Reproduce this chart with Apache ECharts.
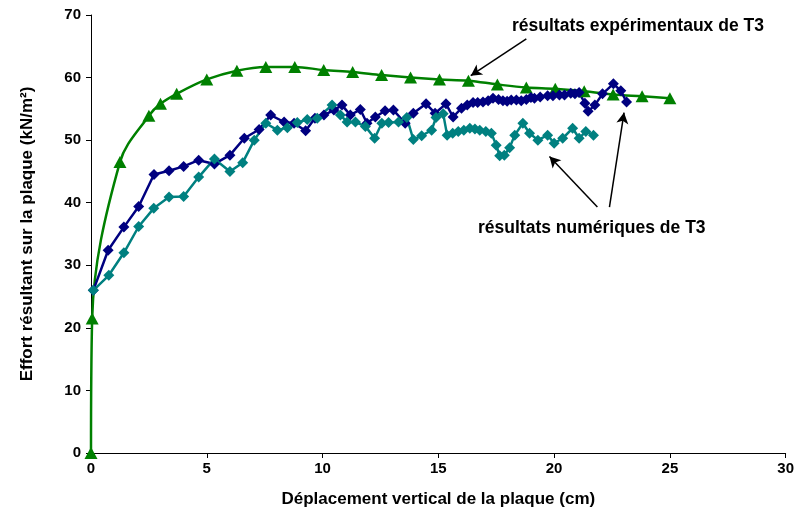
<!DOCTYPE html>
<html>
<head>
<meta charset="utf-8">
<script src="https://cdn.jsdelivr.net/npm/echarts@6/dist/echarts.min.js"></script>
<style>
html,body{margin:0;padding:0;background:#fff;}
#main{width:797px;height:513px;}
</style>
</head>
<body>
<div id="main"></div>
<script>
//résultats expérimentaux (triangles verts)
var expX = [0, 0.05, 1.25, 2.5, 3.0, 3.7, 5.0, 6.3, 7.55, 8.8, 10.05, 11.3, 12.55, 13.8, 15.05, 16.3, 17.55, 18.8, 20.05, 21.3, 22.55, 23.8, 25.0];
var expY = [0, 21.5, 46.5, 53.9, 55.8, 57.4, 59.7, 61.1, 61.7, 61.7, 61.2, 60.9, 60.4, 60.0, 59.7, 59.5, 58.9, 58.4, 58.2, 57.8, 57.3, 57.0, 56.7];

//résultats numériques - bleu foncé
var numAX = [0.1, 0.74, 1.42, 2.06, 2.72, 3.37, 4.0, 4.65, 5.33, 6.0, 6.62, 7.26, 7.76, 8.34, 8.77, 9.27, 9.67, 10.06, 10.49, 10.84, 11.2, 11.63, 11.92, 12.28, 12.7, 13.06, 13.57, 13.92, 14.47, 14.86, 15.33, 15.64, 16.0, 16.25, 16.5, 16.7, 16.93, 17.15, 17.36, 17.6, 17.79, 17.97, 18.15, 18.37, 18.58, 18.8, 19.0, 19.15, 19.4, 19.72, 19.95, 20.23, 20.45, 20.72, 20.9, 21.08, 21.33, 21.47, 21.76, 22.09, 22.56, 22.88, 23.13];
var numAY = [26.0, 32.4, 36.1, 39.4, 44.5, 45.1, 45.8, 46.8, 46.2, 47.6, 50.3, 51.7, 54.0, 52.9, 52.7, 51.5, 53.5, 54.0, 54.8, 55.6, 54.0, 54.9, 52.7, 53.7, 54.7, 54.8, 52.7, 54.3, 55.8, 54.3, 55.8, 53.7, 55.1, 55.6, 56.0, 56.0, 56.1, 56.3, 56.7, 56.5, 56.3, 56.2, 56.4, 56.4, 56.3, 56.5, 56.8, 56.7, 56.9, 57.1, 57.1, 57.2, 57.2, 57.5, 57.4, 57.6, 55.9, 54.6, 55.6, 57.4, 59.0, 57.9, 56.1];

//résultats numériques - bleu canard
var numBX = [0.1, 0.77, 1.42, 2.06, 2.71, 3.37, 4.0, 4.65, 5.33, 6.0, 6.55, 7.05, 7.55, 8.05, 8.48, 8.91, 9.34, 9.77, 10.41, 10.77, 11.06, 11.42, 11.85, 12.25, 12.56, 12.85, 13.28, 13.64, 13.92, 14.28, 14.71, 14.9, 15.21, 15.38, 15.62, 15.86, 16.1, 16.36, 16.58, 16.79, 17.05, 17.29, 17.5, 17.65, 17.85, 18.08, 18.3, 18.65, 18.94, 19.3, 19.72, 20.0, 20.37, 20.8, 21.08, 21.37, 21.7];
var numBY = [26.0, 28.4, 32.0, 36.2, 39.1, 40.9, 41.0, 44.1, 47.0, 45.0, 46.4, 50.0, 52.7, 51.6, 52.0, 52.8, 53.3, 53.5, 55.6, 54.0, 52.9, 52.9, 52.2, 50.3, 52.7, 52.8, 52.9, 53.6, 50.1, 50.7, 51.6, 53.6, 54.2, 50.8, 51.1, 51.4, 51.6, 51.9, 51.8, 51.6, 51.4, 51.1, 49.2, 47.5, 47.6, 48.8, 50.8, 52.7, 51.1, 50.0, 50.8, 49.5, 50.3, 51.9, 50.3, 51.4, 50.8];

//flèches des annotations [x0, y0, x1, y1] en coordonnées du graphique
var arrowExp = [18.8, 66.2, 16.4, 60.3];
var arrowNum1 = [21.87, 39.3, 19.8, 47.4];
var arrowNum2 = [22.39, 39.3, 23.02, 54.4];

function pairs(xs, ys){
	var out = [];
	for(var i = 0; i < xs.length; i++){
		out.push([xs[i], ys[i]]);
	}
	return out;
}

function arrow(a){
	return [{coord:[a[0], a[1]]}, {coord:[a[2], a[3]]}];
}

var font = '"Liberation Sans", Arial, sans-serif';

var option = {
	animation: false,
	backgroundColor: '#fff',
	grid: {left: 91, right: 8, top: 15, bottom: 60, containLabel: false},
	xAxis: {
		type: 'value', min: 0, max: 30, interval: 5,
		name: 'Déplacement vertical de la plaque (cm)',
		nameLocation: 'middle', nameGap: 38,
		nameTextStyle: {fontFamily: font, fontWeight: 'bold', fontSize: 17, color: '#000'},
		axisLine: {show: true, lineStyle: {color: '#000', width: 1}},
		axisTick: {show: true, inside: false, length: 5, lineStyle: {color: '#000'}},
		axisLabel: {fontFamily: font, fontWeight: 'bold', fontSize: 15, color: '#000', margin: 8},
		splitLine: {show: false}
	},
	yAxis: {
		type: 'value', min: 0, max: 70, interval: 10,
		name: 'Effort résultant sur la plaque (kN/m²)',
		nameLocation: 'middle', nameGap: 55, nameRotate: 90,
		nameTextStyle: {fontFamily: font, fontWeight: 'bold', fontSize: 17, color: '#000'},
		axisLine: {show: true, lineStyle: {color: '#000', width: 1}},
		axisTick: {show: true, inside: false, length: 5, lineStyle: {color: '#000'}},
		axisLabel: {fontFamily: font, fontWeight: 'bold', fontSize: 15, color: '#000', margin: 10},
		splitLine: {show: false}
	},
	graphic: [
		{type: 'text', left: 512, top: 17, style: {text: 'résultats expérimentaux de T3', font: 'bold 17.5px ' + font, fill: '#000'}},
		{type: 'text', left: 478, top: 219, style: {text: 'résultats numériques de T3', font: 'bold 17.5px ' + font, fill: '#000'}}
	],
	series: [
		{
			type: 'line', name: 'exp', data: pairs(expX, expY), smooth: 0.35,
			symbol: 'triangle', symbolSize: [13, 12],
			lineStyle: {color: '#008000', width: 2.5},
			itemStyle: {color: '#008000'},
			markLine: {
				silent: true, symbol: ['none', 'arrow'], symbolSize: [9, 11],
				label: {show: false},
				lineStyle: {color: '#000', width: 1.5, type: 'solid'},
				data: [arrow(arrowExp)]
			}
		},
		{
			type: 'line', name: 'numA', data: pairs(numAX, numAY),
			symbol: 'diamond', symbolSize: 11,
			lineStyle: {color: '#000080', width: 2.5},
			itemStyle: {color: '#000080'}
		},
		{
			type: 'line', name: 'numB', data: pairs(numBX, numBY),
			symbol: 'diamond', symbolSize: 11,
			lineStyle: {color: '#008080', width: 2.5},
			itemStyle: {color: '#008080'},
			markLine: {
				silent: true, symbol: ['none', 'arrow'], symbolSize: [9, 11],
				label: {show: false},
				lineStyle: {color: '#000', width: 1.5, type: 'solid'},
				data: [arrow(arrowNum1), arrow(arrowNum2)]
			}
		}
	]
};

var myChart = echarts.init(document.getElementById('main'));
myChart.setOption(option);
</script>
</body>
</html>
